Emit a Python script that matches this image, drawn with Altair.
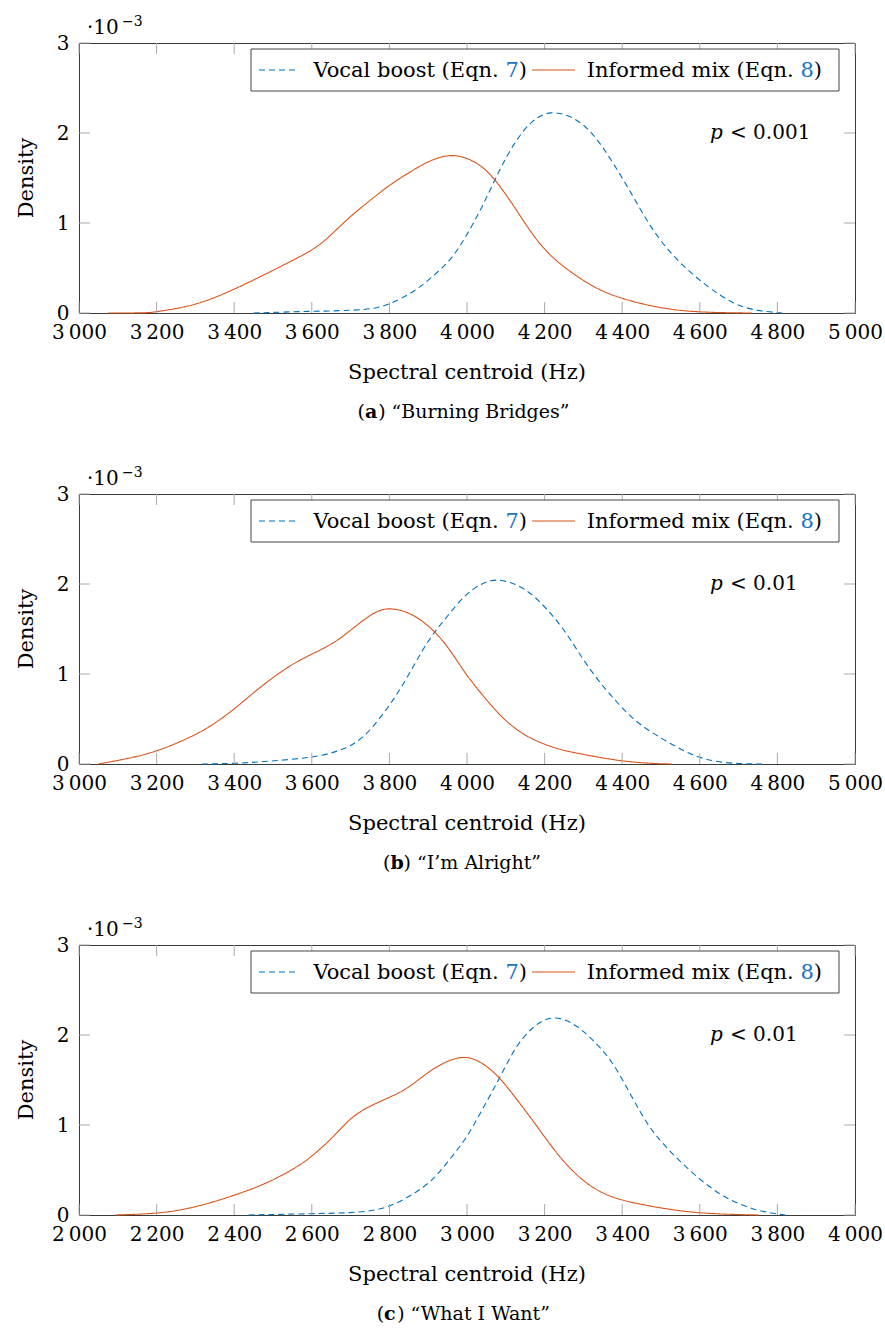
import altair as alt
import pandas as pd

FONT = "DejaVu Serif"
BLUE = "#0072BD"
ORANGE = "#D95319"
LINKBLUE = "#1a75c0"
TICKGREY = "#aaaaaa"
FRAME = "#3a3a3a"

W, H = 776, 270

# ---------------- data (density in units of 1e-3) ----------------
a_vocal_f = [3450, 3600, 3747, 3798, 3867, 3918, 3961, 3996, 4039, 4082, 4124, 4168, 4215,
             4271, 4322, 4374, 4425, 4468, 4511, 4562, 4623, 4683, 4735, 4812]
a_vocal_d = [0, 0.02, 0.03, 0.09, 0.24, 0.43, 0.60, 0.84, 1.17, 1.58, 1.91, 2.15, 2.25,
             2.19, 2.02, 1.69, 1.32, 0.99, 0.73, 0.50, 0.28, 0.11, 0.03, 0]
a_mix_f = [3075, 3180, 3200, 3300, 3400, 3489, 3549, 3602, 3639, 3695, 3747, 3802, 3858, 3910,
           3970, 4039, 4082, 4124, 4168, 4211, 4253, 4296, 4339, 4391, 4468, 4554, 4650, 4735]
a_mix_d = [0, 0, 0.015, 0.08, 0.26, 0.45, 0.58, 0.70, 0.82, 1.06, 1.24, 1.43, 1.58, 1.71,
           1.78, 1.65, 1.43, 1.17, 0.87, 0.65, 0.50, 0.37, 0.26, 0.17, 0.08, 0.02, 0.003, 0]

b_vocal_f = [3317, 3403, 3489, 3600, 3661, 3712, 3755, 3802, 3841, 3884, 3918, 3953, 3996, 4039,
             4073, 4124, 4168, 4211, 4253, 4296, 4339, 4391, 4442, 4511, 4580, 4657, 4760]
b_vocal_d = [0, 0.005, 0.03, 0.07, 0.13, 0.22, 0.39, 0.66, 0.92, 1.26, 1.48, 1.66, 1.89, 2.01,
             2.06, 2.01, 1.89, 1.70, 1.48, 1.18, 0.92, 0.66, 0.44, 0.26, 0.09, 0.005, 0]
b_mix_f = [3050, 3128, 3201, 3274, 3334, 3401, 3454, 3515, 3558, 3609, 3661, 3712, 3764, 3802,
           3858, 3918, 3961, 3996, 4039, 4082, 4124, 4168, 4236, 4296, 4382, 4468, 4528]
b_mix_d = [0, 0.06, 0.14, 0.27, 0.40, 0.61, 0.81, 1.01, 1.13, 1.24, 1.35, 1.53, 1.70, 1.74,
           1.68, 1.48, 1.24, 1.0, 0.77, 0.55, 0.39, 0.27, 0.16, 0.11, 0.04, 0.005, 0]

c_vocal_f = [2437, 2601, 2729, 2798, 2867, 2918, 2953, 2996, 3039, 3082, 3124, 3168, 3215,
             3271, 3322, 3374, 3425, 3468, 3511, 3562, 3623, 3683, 3752, 3820]
c_vocal_d = [0, 0.015, 0.025, 0.08, 0.24, 0.41, 0.61, 0.83, 1.17, 1.50, 1.87, 2.09, 2.22,
             2.15, 1.96, 1.72, 1.31, 0.98, 0.76, 0.54, 0.31, 0.15, 0.04, 0]
c_mix_f = [2094, 2205, 2283, 2351, 2401, 2472, 2532, 2575, 2605, 2652, 2695, 2738, 2802, 2850,
           2910, 2987, 3039, 3082, 3124, 3168, 3211, 3253, 3296, 3339, 3391, 3468, 3554, 3640, 3752]
c_mix_d = [0, 0.015, 0.07, 0.15, 0.22, 0.33, 0.46, 0.57, 0.67, 0.85, 1.06, 1.19, 1.31, 1.41,
           1.63, 1.79, 1.70, 1.54, 1.31, 1.06, 0.80, 0.57, 0.39, 0.26, 0.17, 0.10, 0.04, 0.01, 0]

ab_xticks = [3000, 3200, 3400, 3600, 3800, 4000, 4200, 4400, 4600, 4800, 5000]
c_xticks = [2000, 2200, 2400, 2600, 2800, 3000, 3200, 3400, 3600, 3800, 4000]
y_ticks = [0, 1, 2, 3]

series_names = ["Vocal boost", "Informed mix"]
captions = ["“Burning Bridges”", "“I’m Alright”", "“What I Want”"]
letters = ["a", "b", "c"]
pvalues = ["< 0.001", "< 0.01", "< 0.01"]

# DejaVu Serif advance widths (em) of the few glyphs used for piecing texts together
EM_PAREN = 0.390
EM_DIGIT = 0.636
EM_SPACE = 0.318


def est(s, fs):
    w = 0.0
    for ch in s:
        if ch == " ":
            w += 0.318
        elif ch in "()":
            w += 0.390
        elif ch in "“”’.":
            w += 0.318
        elif ch.isupper():
            w += 0.72
        elif ch in "ilj":
            w += 0.32
        elif ch in "trf":
            w += 0.42
        elif ch.isdigit():
            w += 0.636
        else:
            w += 0.60
    return w * fs


def txt(t, x, y, size=20, align="left", baseline="alphabetic", color="black",
        weight="normal", style="normal", angle=0):
    kw = dict(text=t, font=FONT, fontSize=size, align=align, baseline=baseline,
              color=color, fontWeight=weight, fontStyle=style)
    if angle:
        kw["angle"] = angle
    return alt.Chart(pd.DataFrame({"k": [0]})).mark_text(**kw).encode(
        x=alt.value(x), y=alt.value(y))


def panel(vf, vd, mf, md, xticks, letter, caption, pval):
    df = pd.concat([
        pd.DataFrame({"f": vf, "d": vd, "s": series_names[0]}),
        pd.DataFrame({"f": mf, "d": md, "s": series_names[1]}),
    ])
    xs = alt.Scale(domain=[xticks[0], xticks[-1]], nice=False, zero=False)
    ys = alt.Scale(domain=[0, 3], nice=False)
    xaxis = alt.Axis(
        values=xticks, title=None, grid=False, ticks=False, tickSize=0, domain=False,
        labelExpr="replace(format(datum.value, ','), ',', '\u2009')",
        labelFont=FONT, labelFontSize=20, labelColor="black", labelPadding=9,
        labelFlush=False, labelOverlap=False)
    yaxis = alt.Axis(
        values=y_ticks, format="d", title=None, grid=False, ticks=False, tickSize=0,
        domain=False, labelFont=FONT, labelFontSize=20, labelColor="black",
        labelPadding=10)
    lines = alt.Chart(df).mark_line(strokeWidth=1.1, interpolate="basis").encode(
        x=alt.X("f:Q", scale=xs, axis=xaxis),
        y=alt.Y("d:Q", scale=ys, axis=yaxis),
        color=alt.Color("s:N", scale=alt.Scale(domain=series_names, range=[BLUE, ORANGE]),
                        legend=None),
        strokeDash=alt.StrokeDash("s:N", scale=alt.Scale(domain=series_names,
                                                         range=[[6, 4], [1, 0]]),
                                  legend=None),
    )
    xt = pd.DataFrame({"t": xticks})
    yt = pd.DataFrame({"t": y_ticks})
    TL = 11
    tick_top = alt.Chart(xt).mark_rule(color=TICKGREY).encode(
        x=alt.X("t:Q", scale=xs, axis=xaxis), y=alt.value(0), y2=alt.value(TL))
    tick_bot = alt.Chart(xt).mark_rule(color=TICKGREY).encode(
        x=alt.X("t:Q", scale=xs, axis=xaxis), y=alt.value(H - TL), y2=alt.value(H))
    tick_l = alt.Chart(yt).mark_rule(color=TICKGREY).encode(
        y=alt.Y("t:Q", scale=ys, axis=yaxis), x=alt.value(0), x2=alt.value(TL))
    tick_r = alt.Chart(yt).mark_rule(color=TICKGREY).encode(
        y=alt.Y("t:Q", scale=ys, axis=yaxis), x=alt.value(W - TL), x2=alt.value(W))

    one = pd.DataFrame({"k": [0]})
    box = alt.Chart(one).mark_rect(fill="white", stroke="#444444", strokeWidth=1).encode(
        x=alt.value(172), x2=alt.value(760), y=alt.value(6), y2=alt.value(48))
    sam_v = alt.Chart(one).mark_rule(color=BLUE, strokeWidth=1.1, strokeDash=[6, 4]).encode(
        x=alt.value(180), x2=alt.value(220), y=alt.value(27))
    sam_m = alt.Chart(one).mark_rule(color=ORANGE, strokeWidth=1.1).encode(
        x=alt.value(453), x2=alt.value(496), y=alt.value(27))

    fs = 21
    base_y = 34
    wp, wd, wsp = EM_PAREN * fs, EM_DIGIT * fs, EM_SPACE * fs
    end_v = 448
    end_m = 743
    leg = [
        txt(")", end_v, base_y, fs, align="right"),
        txt("7", end_v - wp, base_y, fs, align="right", color=LINKBLUE),
        txt("Vocal boost (Eqn.", end_v - wp - wd - wsp, base_y, fs, align="right"),
        txt(")", end_m, base_y, fs, align="right"),
        txt("8", end_m - wp, base_y, fs, align="right", color=LINKBLUE),
        txt("Informed mix (Eqn.", end_m - wp - wd - wsp, base_y, fs, align="right"),
    ]

    ptxt = [txt("p", 631, 96, 20, style="italic"), txt(pval, 651, 96, 20)]

    expo = [txt("·10", 8, -9, 20), txt("−3", 43, -17, 14)]

    labels = [
        txt("Density", -52, H / 2, 21, align="center", baseline="middle", angle=270),
        txt("Spectral centroid (Hz)", W / 2, 330, 21, align="center", baseline="middle"),
    ]

    cfs = 19
    bw = 0.69 * cfs
    rest = ") " + caption
    total = est("(", cfs) + bw + est(rest, cfs)
    cx = 378 - total / 2
    cap = [
        txt("(", cx, 375, cfs),
        txt(letter, cx + est("(", cfs), 375, cfs, weight="bold"),
        txt(rest, cx + est("(", cfs) + bw, 375, cfs),
    ]

    return alt.layer(lines, tick_top, tick_bot, tick_l, tick_r, box, sam_v, sam_m,
                     *leg, *ptxt, *expo, *labels, *cap).properties(width=W, height=H)


pa = panel(a_vocal_f, a_vocal_d, a_mix_f, a_mix_d, ab_xticks, letters[0], captions[0], pvalues[0])
pb = panel(b_vocal_f, b_vocal_d, b_mix_f, b_mix_d, ab_xticks, letters[1], captions[1], pvalues[1])
pc = panel(c_vocal_f, c_vocal_d, c_mix_f, c_mix_d, c_xticks, letters[2], captions[2], pvalues[2])

chart = alt.vconcat(pa, pb, pc, spacing=42).properties(
    padding={"left": 15, "top": 14, "right": 0, "bottom": 0},
    background="white",
).configure_view(stroke=FRAME, strokeWidth=1)

chart.save("out.html", embed_options={"renderer": "svg", "actions": False})
